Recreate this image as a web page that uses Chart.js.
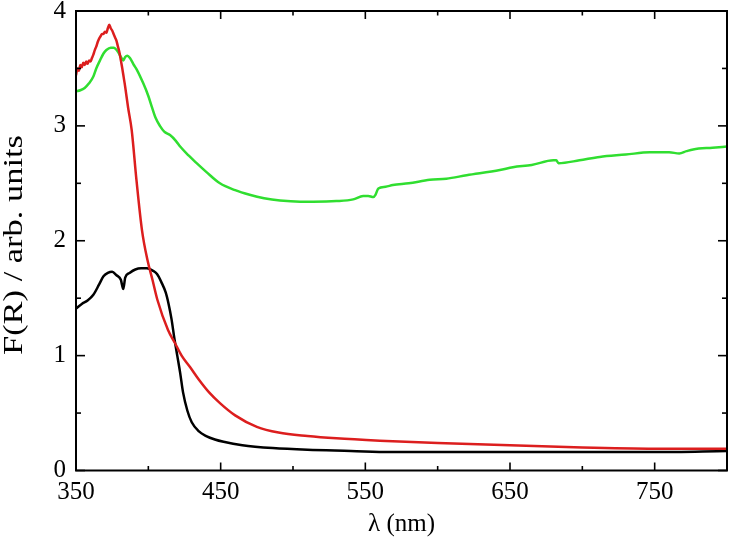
<!DOCTYPE html>
<html>
<head>
<meta charset="utf-8">
<script src="https://cdn.jsdelivr.net/npm/chart.js@4/dist/chart.umd.min.js"></script>
<style>
html,body{margin:0;padding:0;background:#fff;}
#wrap{position:relative;width:729px;height:541px;}
</style>
</head>
<body>
<div id="wrap"><canvas id="c" width="729" height="541"></canvas></div>
<script>
// ---- data ----
const redX = [350,351,352,353,354,355,356,357,358,359,360,361,362,363,364,365,366,367,368,369,370,371,372,373,374,375,376,377,378,379,380,381,382,383,384,386,388.5,391.8,395.6,399.4,402.9,406.3,413.6,418.4,423,428.8,435,442,449.5,460,475,490,510,530,560,600,650,700,750,800];
const redY = [3.44,3.50,3.48,3.53,3.51,3.55,3.53,3.56,3.54,3.57,3.56,3.59,3.62,3.66,3.69,3.73,3.76,3.78,3.80,3.80,3.82,3.81,3.85,3.88,3.85,3.83,3.80,3.77,3.74,3.69,3.64,3.57,3.50,3.42,3.34,3.16,2.963,2.528,2.093,1.832,1.658,1.484,1.223,1.110,1.0,0.901,0.79,0.68,0.587,0.48,0.38,0.33,0.30,0.28,0.26,0.24,0.22,0.20,0.19,0.19];

const blackX = [350,354,358,362,366,369,372,375,378,381,382.7,384,387,391,395,399,403,406,409,412,414,416,418,420,422,424,427,430,435,440,446,452,465,486,510,540,567,600,650,700,750,800];
const blackY = [1.41,1.45,1.48,1.53,1.62,1.69,1.72,1.73,1.70,1.66,1.58,1.68,1.72,1.75,1.76,1.76,1.74,1.71,1.64,1.55,1.45,1.32,1.15,1.0,0.85,0.68,0.52,0.42,0.34,0.30,0.27,0.25,0.22,0.195,0.18,0.17,0.16,0.16,0.16,0.16,0.16,0.17];

const greenX = [350,353,356,359,362,364,366.6,369,371,374,376,379,381,382.7,384,385.5,387.3,390,392,396.5,400,402.3,405,408,411,415,419,422,428,433,440,449.5,460,470,480,491,505,514,530,541.6,548.5,552,555.5,557,559,564,569,580,594.6,606,620,643,652,665,680,682,683.5,698,712,730,746.7,760,767,772,776.6,790,800];
const greenY = [3.30,3.31,3.33,3.37,3.43,3.50,3.57,3.63,3.66,3.68,3.68,3.645,3.60,3.57,3.60,3.61,3.59,3.53,3.49,3.37,3.26,3.17,3.07,3.00,2.95,2.92,2.87,2.82,2.74,2.68,2.60,2.50,2.44,2.40,2.37,2.35,2.34,2.34,2.345,2.36,2.39,2.39,2.38,2.40,2.455,2.47,2.485,2.50,2.53,2.54,2.57,2.615,2.64,2.66,2.70,2.70,2.675,2.70,2.73,2.75,2.77,2.77,2.76,2.78,2.795,2.81,2.82];

const xMajorTicks = [350,450,550,650,750];
const xMinorTicks = [400,500,600,700,800];
const yMajorTicks = [0,1,2,3,4];
const yMinorTicks = [0.5,1.5,2.5,3.5];
const xTitle = 'λ (nm)';
const yTitle = 'F(R) / arb. units';

const toPts = (xs, ys) => xs.map((x, i) => ({x: x, y: ys[i]}));
const FONT = 'Liberation Serif';

const tickPlugin = {
  id: 'frameTicks',
  afterDatasetsDraw(chart) {
    const ctx = chart.ctx, a = chart.chartArea;
    const xs = chart.scales.x, ys = chart.scales.y;
    ctx.save();
    ctx.strokeStyle = '#000';
    ctx.lineWidth = 1.6;
    const tick = (x1, y1, x2, y2) => { ctx.beginPath(); ctx.moveTo(x1, y1); ctx.lineTo(x2, y2); ctx.stroke(); };
    xMajorTicks.forEach(v => { const p = xs.getPixelForValue(v); tick(p, a.bottom, p, a.bottom - 8); tick(p, a.top, p, a.top + 8); });
    xMinorTicks.forEach(v => { const p = xs.getPixelForValue(v); tick(p, a.bottom, p, a.bottom - 4.5); tick(p, a.top, p, a.top + 4.5); });
    yMajorTicks.forEach(v => { const p = ys.getPixelForValue(v); tick(a.left, p, a.left + 9, p); tick(a.right, p, a.right - 9, p); });
    yMinorTicks.forEach(v => { const p = ys.getPixelForValue(v); tick(a.left, p, a.left + 5, p); tick(a.right, p, a.right - 5, p); });
    ctx.lineWidth = 2;
    ctx.strokeRect(a.left, a.top, a.right - a.left, a.bottom - a.top);
    // y-axis title, rotated, slightly stretched along its length like the reference
    ctx.fillStyle = '#000';
    ctx.font = '28px "' + FONT + '"';
    const w = ctx.measureText(yTitle).width;
    const target = 220;
    ctx.translate(15, 245);
    ctx.rotate(-Math.PI / 2);
    ctx.scale(target / w, 1);
    ctx.textAlign = 'center';
    ctx.textBaseline = 'middle';
    ctx.fillText(yTitle, 0, 0);
    ctx.restore();
  }
};

new Chart(document.getElementById('c'), {
  type: 'line',
  data: {
    datasets: [
      {data: toPts(redX, redY), borderColor: '#dc1e1e', borderWidth: 2.5, pointRadius: 0, cubicInterpolationMode: 'monotone'},
      {data: toPts(blackX, blackY), borderColor: '#000000', borderWidth: 2.5, pointRadius: 0, cubicInterpolationMode: 'monotone'},
      {data: toPts(greenX, greenY), borderColor: '#30de30', borderWidth: 2.5, pointRadius: 0, cubicInterpolationMode: 'monotone'}
    ]
  },
  plugins: [tickPlugin],
  options: {
    responsive: false,
    animation: false,
    layout: {padding: {left: 0, right: 2, top: 11, bottom: 0}},
    plugins: {legend: {display: false}, tooltip: {enabled: false}},
    scales: {
      x: {
        type: 'linear', min: 350, max: 800,
        afterBuildTicks: s => { s.ticks = xMajorTicks.map(v => ({value: v})); },
        afterFit: s => { s.height = 70.5; s.paddingLeft = 0; s.paddingRight = 0; },
        grid: {display: false, drawTicks: false},
        border: {display: false},
        ticks: {color: '#000', font: {family: FONT, size: 25}, padding: 7, maxRotation: 0, autoSkip: false},
        title: {display: true, text: xTitle, color: '#000', font: {family: FONT, size: 25}, padding: {top: 0, bottom: 2}}
      },
      y: {
        type: 'linear', min: 0, max: 4,
        afterBuildTicks: s => { s.ticks = yMajorTicks.map(v => ({value: v})); },
        afterFit: s => { s.width = 76; s.paddingTop = 0; s.paddingBottom = 0; },
        grid: {display: false, drawTicks: false},
        border: {display: false},
        ticks: {color: '#000', font: {family: FONT, size: 25}, padding: 10},
        title: {display: false}
      }
    }
  }
});
</script>
</body>
</html>
